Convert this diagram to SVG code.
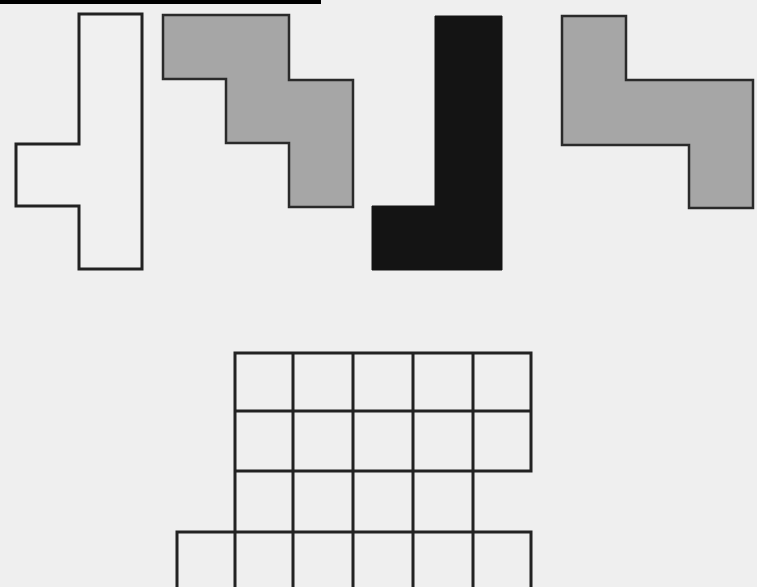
<svg xmlns="http://www.w3.org/2000/svg" width="757" height="587" viewBox="0 0 757 587">
<style>
.o{fill:none;stroke:#222;stroke-width:3;stroke-linecap:square}
.w{fill:#f0f0f0;stroke:#222;stroke-width:3}
.g{fill:#a6a6a6;stroke:#2a2a2a;stroke-width:2.5}
.b{fill:#141414;stroke:#141414;stroke-width:1}
</style>
<rect width="757" height="587" fill="#efefef"/>
<rect x="0" y="0" width="321" height="4" fill="#000"/>
<g id="cross"><path class="w" d="M79,14H142V269H79V206H16V144H79Z"/></g>
<g id="gray-s"><path class="g" d="M163,15H289V80H353V207H289V143H226V79H163Z"/></g>
<g id="black-l"><path class="b" d="M435,16H502V270H372V206H435Z"/></g>
<g id="gray-step"><path class="g" d="M562,16H626V80H753V208H689V145H562Z"/></g>
<g id="grid">
<path class="o" d="M235,353H531V471H473V532H531V590M235,353V532H177V590M235,411H531M235,471H473M177,532H473M293,353V590M353,353V590M413,353V590M473,353V471M235,532V590M473,532V590"/>
</g>
</svg>
